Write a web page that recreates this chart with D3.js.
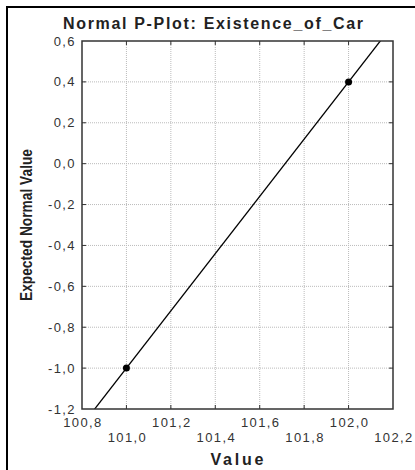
<!DOCTYPE html>
<html><head><meta charset="utf-8">
<script src="https://cdn.jsdelivr.net/npm/d3@7"></script>
<style>body{margin:0;background:#fff}svg{display:block}</style>
</head><body>
<script>
const obsValues = [101.0, 102.0];
const expectedNormal = [-1.0, 0.4];
const xTicks = [100.8, 101.0, 101.2, 101.4, 101.6, 101.8, 102.0, 102.2];
const yTicks = [-1.2, -1.0, -0.8, -0.6, -0.4, -0.2, 0.0, 0.2, 0.4, 0.6];
const fmt = v => v.toFixed(1).replace('.', ',');

const W = 415, H = 470;
const L = 82, R = 393, T = 41, B = 409;
const svg = d3.select('body').append('svg').attr('width', W).attr('height', H);

// outer frame (top & left only)
svg.append('path').attr('d', `M7,470 L7,7 L415,7`).attr('fill','none').attr('stroke','#000').attr('stroke-width',2);

const x = d3.scaleLinear().domain([100.8, 102.2]).range([L, R]);
const y = d3.scaleLinear().domain([-1.2, 0.6]).range([B, T]);

// grid
const g = svg.append('g');
g.selectAll('.gx').data(xTicks.slice(1, -1)).join('line')
  .attr('x1', d => x(d)).attr('x2', d => x(d)).attr('y1', T).attr('y2', B)
  .attr('stroke', '#bbb').attr('stroke-width', 1).attr('stroke-dasharray', '1,1');
g.selectAll('.gy').data(yTicks.slice(1, -1)).join('line')
  .attr('y1', d => y(d)).attr('y2', d => y(d)).attr('x1', L).attr('x2', R)
  .attr('stroke', '#bbb').attr('stroke-width', 1).attr('stroke-dasharray', '1,1');

// inner ticks
const tk = svg.append('g').attr('stroke', '#333').attr('stroke-width', 1);
xTicks.slice(1, -1).forEach(d => {
  tk.append('line').attr('x1', x(d)).attr('x2', x(d)).attr('y1', T).attr('y2', T + 4);
  tk.append('line').attr('x1', x(d)).attr('x2', x(d)).attr('y1', B).attr('y2', B - 4);
});
yTicks.slice(1, -1).forEach(d => {
  tk.append('line').attr('y1', y(d)).attr('y2', y(d)).attr('x1', L).attr('x2', L + 4);
  tk.append('line').attr('y1', y(d)).attr('y2', y(d)).attr('x1', R).attr('x2', R - 4);
});

// fitted line through the points, clipped to plot area
svg.append('clipPath').attr('id', 'clip').append('rect').attr('x', L).attr('y', T).attr('width', R - L).attr('height', B - T);
const slope = (expectedNormal[1] - expectedNormal[0]) / (obsValues[1] - obsValues[0]);
const fx = v => expectedNormal[0] + slope * (v - obsValues[0]);
const x0 = 100.8, x1 = 102.2;
svg.append('line').attr('clip-path', 'url(#clip)')
  .attr('x1', x(x0)).attr('y1', y(fx(x0))).attr('x2', x(x1)).attr('y2', y(fx(x1)))
  .attr('stroke', '#000').attr('stroke-width', 1.3);

// points
svg.selectAll('.pt').data(obsValues).join('circle')
  .attr('cx', d => x(d)).attr('cy', (d, i) => y(expectedNormal[i])).attr('r', 3.5).attr('fill', '#000');

// plot frame
svg.append('rect').attr('x', L).attr('y', T).attr('width', R - L).attr('height', B - T)
  .attr('fill', 'none').attr('stroke', '#333').attr('stroke-width', 1.5);

// y tick labels
svg.selectAll('.yl').data(yTicks).join('text')
  .attr('x', 76).attr('y', d => y(d) + 4.5).attr('text-anchor', 'end')
  .attr('font-family', 'Arial, Liberation Sans, sans-serif').attr('font-size', 13).attr('fill', '#333')
  .attr('letter-spacing', 1.4)
  .text(fmt);

// x tick labels staggered
svg.selectAll('.xl').data(xTicks).join('text')
  .attr('x', d => x(d) + 1).attr('y', (d, i) => i % 2 === 0 ? 427 : 442).attr('text-anchor', 'middle')
  .attr('font-family', 'Arial, Liberation Sans, sans-serif').attr('font-size', 13).attr('fill', '#333')
  .attr('letter-spacing', 1.4)
  .text(fmt);

// title
svg.append('text').attr('x', 213).attr('y', 29).attr('text-anchor', 'middle')
  .attr('font-family', 'Arial, Liberation Sans, sans-serif').attr('font-weight', 'bold').attr('font-size', 16).attr('fill', '#222')
  .attr('textLength', 300).attr('lengthAdjust', 'spacing')
  .text('Normal P-Plot: Existence_of_Car');

// x label
svg.append('text').attr('x', 237).attr('y', 465).attr('text-anchor', 'middle')
  .attr('font-family', 'Arial, Liberation Sans, sans-serif').attr('font-weight', 'bold').attr('font-size', 16).attr('fill', '#222')
  .attr('textLength', 53).attr('lengthAdjust', 'spacing')
  .text('Value');

// y label
svg.append('text').attr('transform', `translate(32,${(T + B) / 2}) rotate(-90)`).attr('text-anchor', 'middle')
  .attr('font-family', 'Liberation Sans Narrow, Arial Narrow, Arial, sans-serif').attr('font-weight', 'bold').attr('font-size', 17).attr('fill', '#222')
  .attr('textLength', 152).attr('lengthAdjust', 'spacingAndGlyphs')
  .text('Expected Normal Value');
</script>
</body></html>
